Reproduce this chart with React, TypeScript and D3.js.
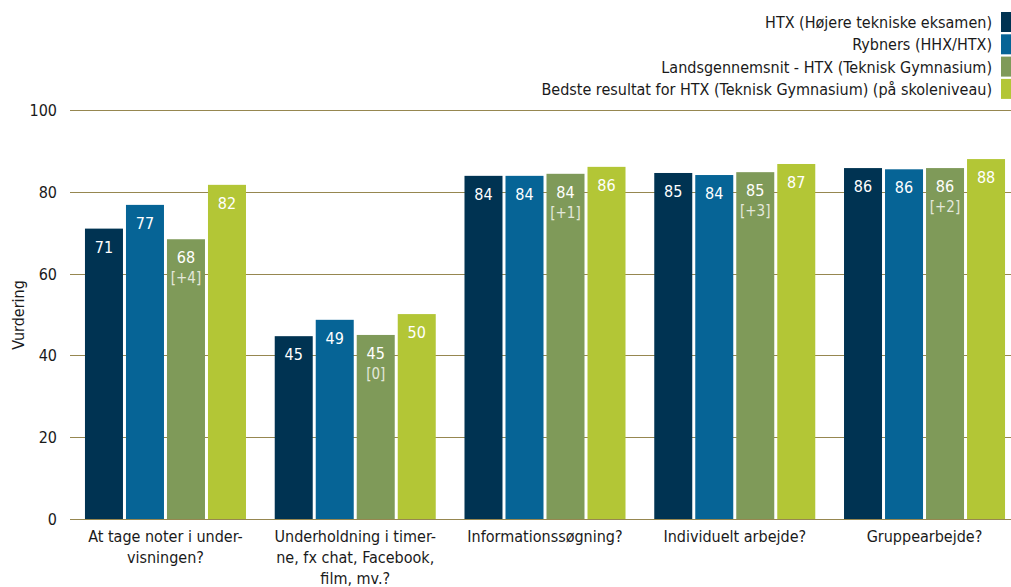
import React from "react";
import * as d3 from "d3";

const categories: string[][] = [
  ["At tage noter i under-", "visningen?"],
  ["Underholdning i timer-", "ne, fx chat, Facebook,", "film, mv.?"],
  ["Informationssøgning?"],
  ["Individuelt arbejde?"],
  ["Gruppearbejde?"],
];
const seriesNames = [
  "HTX (Højere tekniske eksamen)",
  "Rybners (HHX/HTX)",
  "Landsgennemsnit - HTX (Teknisk Gymnasium)",
  "Bedste resultat for HTX (Teknisk Gymnasium) (på skoleniveau)",
];
const htx = [71, 44.7, 83.9, 84.6, 85.8];
const rybners = [76.8, 48.7, 83.9, 84.1, 85.5];
const lands = [68.4, 45.0, 84.4, 84.8, 85.8];
const best = [81.7, 50.1, 86.1, 86.8, 88.0];
const landsDiff = ["[+4]", "[0]", "[+1]", "[+3]", "[+2]"];
const yTicks = [0, 20, 40, 60, 80, 100];
const colors = ["#003352", "#066496", "#7f9a59", "#b3c636"];

const FONT = "'DejaVu Sans Condensed', 'DejaVu Sans', sans-serif";

export default function App() {
  const W = 1011, H = 587;
  const series = [htx, rybners, lands, best];
  const catKeys = categories.map((c) => c.join(" "));
  const y = d3.scaleLinear().domain([0, 100]).range([519, 110]);
  const x0 = d3.scaleBand<string>().domain(catKeys).range([70.6, 1019.4]).paddingInner(0.1515).paddingOuter(0.0757);
  const x1 = d3.scaleBand<string>().domain(seriesNames).range([0, x0.bandwidth()]).paddingInner(3 / 41).paddingOuter(0);
  const gridColor = "#968750";

  return (
    <svg width={W} height={H} style={{ position: "absolute", left: 0, top: 0, fontFamily: FONT }}>
      <rect width={W} height={H} fill="#fff" />
      {yTicks.map((t) => (
        <g key={t}>
          <line x1={70} x2={W} y1={Math.round(y(t)) + 0.5} y2={Math.round(y(t)) + 0.5} stroke={gridColor} strokeWidth={1} />
          <text x={57} y={y(t) + 6} textAnchor="end" fontSize={16} fill="#1a1a1a">{t}</text>
        </g>
      ))}
      <text transform={`translate(24,315) rotate(-90)`} textAnchor="middle" fontSize={16} fill="#1a1a1a">Vurdering</text>
      {categories.map((cat, ci) => {
        const gx = x0(catKeys[ci])!;
        return (
          <g key={ci}>
            {series.map((vals, si) => {
              const v = vals[ci];
              const bx = gx + x1(seriesNames[si])!;
              const bw = x1.bandwidth();
              const top = y(v);
              return (
                <g key={si}>
                  <rect x={bx} y={top} width={bw} height={y(0) - top} fill={colors[si]} />
                  <text x={bx + bw / 2} y={top + 24} textAnchor="middle" fontSize={16} fill="#fff">{Math.round(v)}</text>
                  {si === 2 && (
                    <text x={bx + bw / 2} y={top + 44} textAnchor="middle" fontSize={15} fill="#e4e8dc">{landsDiff[ci]}</text>
                  )}
                </g>
              );
            })}
            {cat.map((line, li) => (
              <text key={li} x={gx + x0.bandwidth() / 2} y={542 + li * 21} textAnchor="middle" fontSize={16} fill="#1a1a1a">{line}</text>
            ))}
          </g>
        );
      })}
      {seriesNames.map((s, i) => {
        const cy = 22 + i * 22.3;
        return (
          <g key={s}>
            <rect x={1001} y={cy - 10} width={12} height={20} fill={colors[i]} />
            <text x={992} y={cy + 6} textAnchor="end" fontSize={16} fill="#1a1a1a">{s}</text>
          </g>
        );
      })}
    </svg>
  );
}
